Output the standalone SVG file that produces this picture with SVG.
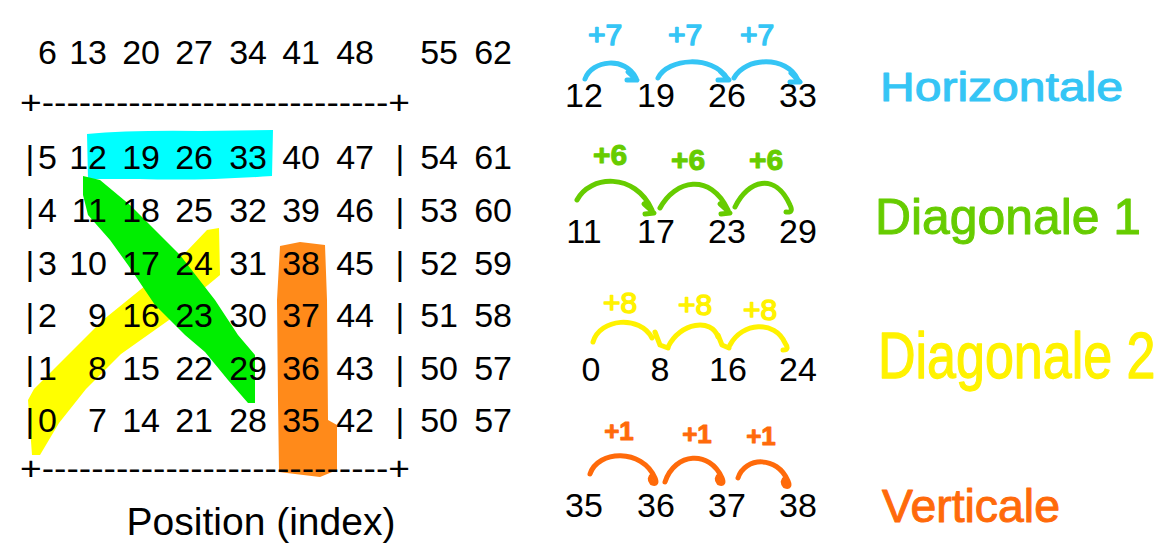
<svg xmlns="http://www.w3.org/2000/svg" width="1176" height="553" viewBox="0 0 1176 553">
<style>
.num{font-family:"Liberation Sans",Arial,sans-serif;font-size:34px;fill:#000}
.r{text-anchor:end}
.m{text-anchor:middle}
.arc{fill:none;stroke-width:5;stroke-linecap:round;stroke-linejoin:round}
.hand{font-family:"Liberation Sans",Arial,sans-serif;stroke-linejoin:round;stroke-linecap:round}
.blue{stroke:#35C5F5;fill:#35C5F5}
.green{stroke:#66CC00;fill:#66CC00}
.yellow{stroke:#FFF200;fill:#FFF200}
.orange{stroke:#FF6A0A;fill:#FF6A0A}
.arc.blue,.arc.green,.arc.yellow,.arc.orange{fill:none}
</style>
<rect width="1176" height="553" fill="#fff"/>

<g id="highlights">
  <path d="M87,134 Q130,130 200,131 L273,130 L272,176 Q200,181 140,179 L88,179 Z" fill="#00FFFF"/>
  <path d="M32,455 L28,400 L34,389 L69,354 L103,320 L140,290 L186,252 L207,230 L219,228 L220,275 L190,300 L169,320 L121,354 L86,389 L59,423 L40,455 Z" fill="#FFFF00"/>
  <path d="M83,176 L100,180 L130,205 L180,255 L215,300 L238,335 L255,355 L255,403 L248,403 L228,380 L205,352 L185,335 L155,305 L128,265 L110,240 L88,215 L83,195 Z" fill="#00EE00"/>
  <path d="M280,246 L300,242 L325,245 L327,300 L328,420 L337,425 L337,470 L320,477 L295,474 L279,472 L278,400 L277,300 Z" fill="#FF8A1A"/>
</g>

<g id="grid" class="num">
  <g id="row-top" class="r">
    <text x="57" y="64">6</text><text x="107" y="64">13</text><text x="160" y="64">20</text><text x="213" y="64">27</text><text x="267" y="64">34</text><text x="320" y="64">41</text><text x="374" y="64">48</text><text x="458" y="64">55</text><text x="512" y="64">62</text>
  </g>
  <text x="20" y="114" textLength="390" lengthAdjust="spacingAndGlyphs">+----------------------------+</text>
  <g id="row5" class="r">
    <text x="30" y="169" class="m">|</text><text x="57" y="169">5</text><text x="107" y="169">12</text><text x="160" y="169">19</text><text x="213" y="169">26</text><text x="267" y="169">33</text><text x="320" y="169">40</text><text x="374" y="169">47</text><text x="400" y="169" class="m">|</text><text x="458" y="169">54</text><text x="512" y="169">61</text>
  </g>
  <g id="row4" class="r">
    <text x="30" y="222" class="m">|</text><text x="57" y="222">4</text><text x="107" y="222">11</text><text x="160" y="222">18</text><text x="213" y="222">25</text><text x="267" y="222">32</text><text x="320" y="222">39</text><text x="374" y="222">46</text><text x="400" y="222" class="m">|</text><text x="458" y="222">53</text><text x="512" y="222">60</text>
  </g>
  <g id="row3" class="r">
    <text x="30" y="275" class="m">|</text><text x="57" y="275">3</text><text x="107" y="275">10</text><text x="160" y="275">17</text><text x="213" y="275">24</text><text x="267" y="275">31</text><text x="320" y="275">38</text><text x="374" y="275">45</text><text x="400" y="275" class="m">|</text><text x="458" y="275">52</text><text x="512" y="275">59</text>
  </g>
  <g id="row2" class="r">
    <text x="30" y="327" class="m">|</text><text x="57" y="327">2</text><text x="107" y="327">9</text><text x="160" y="327">16</text><text x="213" y="327">23</text><text x="267" y="327">30</text><text x="320" y="327">37</text><text x="374" y="327">44</text><text x="400" y="327" class="m">|</text><text x="458" y="327">51</text><text x="512" y="327">58</text>
  </g>
  <g id="row1" class="r">
    <text x="30" y="380" class="m">|</text><text x="57" y="380">1</text><text x="107" y="380">8</text><text x="160" y="380">15</text><text x="213" y="380">22</text><text x="267" y="380">29</text><text x="320" y="380">36</text><text x="374" y="380">43</text><text x="400" y="380" class="m">|</text><text x="458" y="380">50</text><text x="512" y="380">57</text>
  </g>
  <g id="row0" class="r">
    <text x="30" y="432" class="m">|</text><text x="57" y="432">0</text><text x="107" y="432">7</text><text x="160" y="432">14</text><text x="213" y="432">21</text><text x="267" y="432">28</text><text x="320" y="432">35</text><text x="374" y="432">42</text><text x="400" y="432" class="m">|</text><text x="458" y="432">50</text><text x="512" y="432">57</text>
  </g>
  <text x="20" y="480" textLength="390" lengthAdjust="spacingAndGlyphs">+----------------------------+</text>
  <text x="261" y="535" class="m" style="font-size:39px">Position (index)</text>
</g>

<g id="seq-horizontale">
  <g class="num m"><text x="584" y="107">12</text><text x="656" y="107">19</text><text x="727" y="107">26</text><text x="798" y="107">33</text></g>
  <g class="hand blue m" style="font-size:30px;stroke-width:1.5"><text x="605" y="45">+7</text><text x="685" y="45">+7</text><text x="757" y="45">+7</text></g>
</g>
<g id="seq-diag1">
  <g class="num m"><text x="584" y="243">11</text><text x="656" y="243">17</text><text x="727" y="243">23</text><text x="798" y="243">29</text></g>
  <g class="hand green m" style="font-size:30px;font-weight:bold;stroke-width:1"><text x="610" y="165">+6</text><text x="688" y="170">+6</text><text x="766" y="170">+6</text></g>
</g>
<g id="seq-diag2">
  <g class="num m"><text x="591" y="381">0</text><text x="660" y="381">8</text><text x="728" y="381">16</text><text x="798" y="381">24</text></g>
  <g class="hand yellow m" style="font-size:30px;stroke-width:1.5"><text x="620" y="313">+8</text><text x="695" y="315">+8</text><text x="760" y="320">+8</text></g>
</g>
<g id="seq-verticale">
  <g class="num m"><text x="584" y="517">35</text><text x="656" y="517">36</text><text x="727" y="517">37</text><text x="798" y="517">38</text></g>
  <g class="hand orange m" style="font-size:26px;font-weight:bold;stroke-width:1"><text x="619" y="440">+1</text><text x="697" y="443">+1</text><text x="761" y="445">+1</text></g>
</g>

<g id="connectors">
  <g class="arc blue">
    <path d="M585,79 C592,60 625,56 636,78 M628,72 L637,80 L627,80"/>
    <path d="M658,78 C668,58 712,55 727,78 M720,71 L729,80 L718,80"/>
    <path d="M734,78 C745,57 787,55 798,80 M791,73 L800,82 L790,82"/>
  </g>
  <g class="arc green">
    <path d="M577,200 C590,175 635,172 652,210 M644,204 L654,213 L645,214"/>
    <path d="M660,208 C675,180 710,172 728,210 M720,204 L730,213 L721,214"/>
    <path d="M735,207 C748,180 775,172 790,205 Q794,213 786,212"/>
  </g>
  <g class="arc yellow">
    <path d="M593,342 C600,318 640,315 652,338 M655,332 L660,345 L668,348"/>
    <path d="M668,347 C680,322 712,318 718,337 M718,335 L722,345 L729,348"/>
    <path d="M730,345 C742,322 775,320 785,343 Q790,350 783,350"/>
  </g>
  <g class="arc orange">
    <path d="M590,474 C598,450 642,448 655,478 Q658,485 652,483 Q648,478 653,475"/>
    <path d="M665,482 C675,452 710,450 722,478 Q725,485 719,483 Q715,478 720,475"/>
    <path d="M738,478 C745,457 777,455 788,481 Q791,488 785,486 Q781,481 786,478"/>
  </g>
</g>

<g id="labels">
  <text id="lbl-horizontale" class="hand blue" x="880" y="101" style="font-size:40px;stroke-width:1" textLength="243" lengthAdjust="spacingAndGlyphs">Horizontale</text>
  <text id="lbl-diag1" class="hand green" x="875" y="234" style="font-size:50px;stroke-width:1" textLength="266" lengthAdjust="spacingAndGlyphs">Diagonale 1</text>
  <text id="lbl-diag2" class="hand yellow" transform="translate(878,378) scale(1,1.25)" x="0" y="0" style="font-size:52px;stroke-width:1">Diagonale 2</text>
  <text id="lbl-verticale" class="hand orange" x="882" y="522" style="font-size:46px;stroke-width:1" textLength="178" lengthAdjust="spacingAndGlyphs">Verticale</text>
</g>
</svg>
